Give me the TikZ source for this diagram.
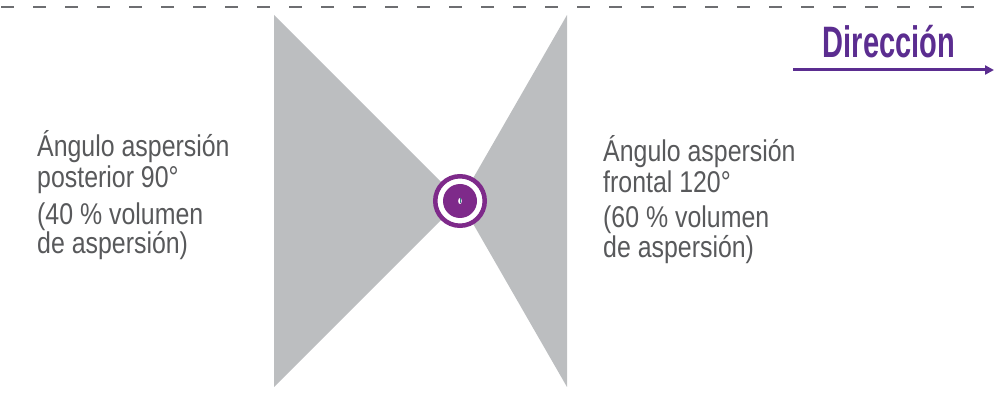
\documentclass[tikz,border=0pt]{standalone}
\usepackage{fontspec}
\setmainfont{Liberation Sans}
\newfontfamily\bodyfont[FakeStretch=0.83]{Liberation Sans}
\newfontfamily\titlefont[FakeStretch=0.66]{Liberation Sans}
\usetikzlibrary{arrows.meta}
\definecolor{fangray}{HTML}{BCBEC0}
\definecolor{nozzlepurple}{HTML}{7E2A8A}
\definecolor{dirpurple}{HTML}{5B2D90}
\definecolor{textgray}{HTML}{58595B}
\definecolor{dashgray}{HTML}{6D6E71}
\tikzset{
  bodytext/.style={anchor=base west, inner sep=0pt, text=textgray, font=\bodyfont\fontsize{30}{34}\selectfont},
  fan/.style={fill=fangray, draw=none},
}
\begin{document}
\begin{tikzpicture}[x=1pt,y=-1pt]
\useasboundingbox (0,0) rectangle (994,395);
% dashed top line
\coordinate (dl) at (1,7);
\coordinate (dr) at (976,7);
\draw[dashgray, line width=2pt, dash pattern=on 13pt off 19pt] (dl) -- (dr);
% spray fans
\coordinate (c) at (460,201);
\fill[fan] (274,15) -- (c) -- (274,387) -- cycle;
\fill[fan] (567,15) -- (c) -- (567,387) -- cycle;
% nozzle
\draw[nozzlepurple, line width=4.5pt, fill=white] (c) circle[radius=24.75];
\fill[nozzlepurple] (c) circle[radius=17];
\fill[white] (c) ellipse[x radius=1.8, y radius=3];
\draw[teal!60!gray, line width=0.6pt] (460,198.5) -- (460,203.5);
% direction
\node[anchor=base, inner sep=0pt, text=dirpurple, font=\titlefont\bfseries\fontsize{44}{48}\selectfont] (dir) at (889,58) {Dirección};
\coordinate (as) at (793,70);
\coordinate (ae) at (994,70);
\draw[dirpurple, line width=3pt, -{Triangle[length=9pt,width=9pt]}] (as) -- (ae);
% left text
\node[bodytext] (l1) at (37,157) {Ángulo aspersión};
\node[bodytext] (l2) at (37,188) {posterior 90°};
\node[bodytext] (l3) at (37,225) {(40 \% volumen};
\node[bodytext] (l4) at (37,254) {de aspersión)};
% right text
\node[bodytext] (r1) at (603,162) {Ángulo aspersión};
\node[bodytext] (r2) at (603,193) {frontal 120°};
\node[bodytext] (r3) at (603,228) {(60 \% volumen};
\node[bodytext] (r4) at (603,258) {de aspersión)};
\end{tikzpicture}
\end{document}
